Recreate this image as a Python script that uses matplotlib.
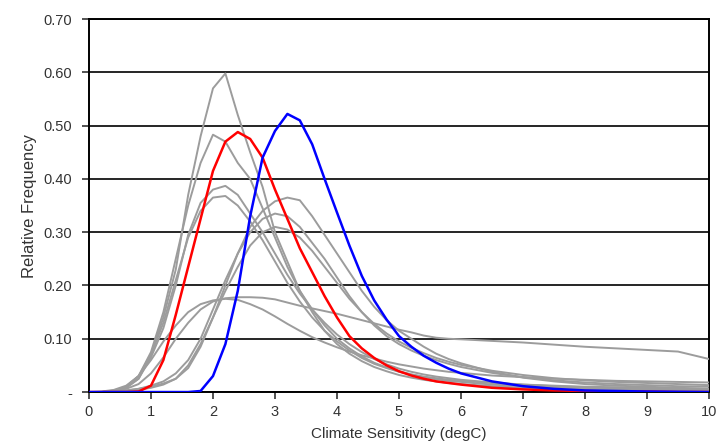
import numpy as np
import matplotlib.pyplot as plt

plt.rcParams['font.family'] = ['Liberation Sans', 'DejaVu Sans']

# climate sensitivity grid (degC)
cs = [0.0, 0.2, 0.4, 0.6, 0.8, 1.0, 1.2, 1.4, 1.6, 1.8, 2.0, 2.2, 2.4, 2.6, 2.8,
      3.0, 3.2, 3.4, 3.6, 3.8, 4.0, 4.2, 4.4, 4.6, 4.8, 5.0, 5.2, 5.4, 5.6, 5.8,
      6.0, 6.5, 7.0, 7.5, 8.0, 8.5, 9.0, 9.5, 10.0]

# grey pdfs
g1 = [0, 0, 0.002, 0.008, 0.025, 0.07, 0.14, 0.23, 0.37, 0.48, 0.57, 0.598, 0.52, 0.45, 0.385,
      0.30, 0.245, 0.19, 0.15, 0.115, 0.09, 0.072, 0.058, 0.047, 0.039, 0.032, 0.027, 0.023, 0.02, 0.017,
      0.015, 0.011, 0.008, 0.006, 0.005, 0.004, 0.003, 0.002, 0.002]
g2 = [0, 0, 0.003, 0.01, 0.03, 0.075, 0.15, 0.25, 0.35, 0.43, 0.483, 0.47, 0.43, 0.40, 0.345,
      0.29, 0.235, 0.19, 0.155, 0.125, 0.10, 0.082, 0.067, 0.055, 0.046, 0.039, 0.033, 0.028, 0.024, 0.021,
      0.019, 0.014, 0.011, 0.009, 0.007, 0.006, 0.005, 0.004, 0.003]
g3 = [0, 0, 0.002, 0.008, 0.025, 0.065, 0.12, 0.20, 0.295, 0.355, 0.38, 0.387, 0.37, 0.335, 0.30,
      0.26, 0.22, 0.185, 0.155, 0.13, 0.108, 0.09, 0.075, 0.062, 0.052, 0.044, 0.038, 0.033, 0.029, 0.026,
      0.023, 0.018, 0.014, 0.011, 0.009, 0.008, 0.007, 0.006, 0.005]
g4 = [0, 0, 0.002, 0.01, 0.03, 0.07, 0.13, 0.21, 0.29, 0.34, 0.365, 0.368, 0.35, 0.32, 0.285,
      0.245, 0.205, 0.17, 0.14, 0.115, 0.095, 0.078, 0.064, 0.053, 0.045, 0.038, 0.033, 0.029, 0.026, 0.023,
      0.021, 0.017, 0.014, 0.012, 0.01, 0.009, 0.008, 0.007, 0.006]
g5 = [0, 0, 0.001, 0.003, 0.006, 0.01, 0.016, 0.025, 0.045, 0.085, 0.14, 0.20, 0.26, 0.31, 0.34,
      0.358, 0.365, 0.36, 0.33, 0.295, 0.26, 0.225, 0.19, 0.16, 0.135, 0.115, 0.10, 0.085, 0.072, 0.062,
      0.054, 0.038, 0.027, 0.02, 0.015, 0.012, 0.01, 0.008, 0.006]
g6 = [0, 0, 0.001, 0.003, 0.006, 0.012, 0.02, 0.035, 0.06, 0.10, 0.155, 0.21, 0.26, 0.30, 0.325,
      0.335, 0.33, 0.31, 0.28, 0.25, 0.215, 0.18, 0.15, 0.125, 0.105, 0.09, 0.078, 0.068, 0.06, 0.053,
      0.047, 0.036, 0.028, 0.022, 0.018, 0.015, 0.013, 0.011, 0.01]
g7 = [0, 0, 0.001, 0.002, 0.004, 0.008, 0.014, 0.025, 0.05, 0.09, 0.14, 0.19, 0.235, 0.275, 0.30,
      0.31, 0.305, 0.29, 0.265, 0.235, 0.205, 0.175, 0.15, 0.128, 0.11, 0.095, 0.083, 0.073, 0.064, 0.057,
      0.051, 0.04, 0.032, 0.026, 0.022, 0.019, 0.017, 0.015, 0.013]
g8 = [0, 0.001, 0.004, 0.012, 0.03, 0.06, 0.095, 0.125, 0.15, 0.165, 0.172, 0.175, 0.173, 0.165, 0.155,
      0.142, 0.128, 0.115, 0.103, 0.093, 0.084, 0.076, 0.069, 0.063, 0.057, 0.052, 0.048, 0.044, 0.041, 0.038,
      0.036, 0.031, 0.028, 0.025, 0.023, 0.021, 0.02, 0.019, 0.018]
g9 = [0, 0, 0.002, 0.006, 0.015, 0.035, 0.065, 0.10, 0.13, 0.155, 0.17, 0.176, 0.178, 0.178, 0.177,
      0.174, 0.168, 0.162, 0.157, 0.152, 0.147, 0.141, 0.135, 0.129, 0.123, 0.117, 0.112, 0.106, 0.102, 0.10,
      0.099, 0.096, 0.093, 0.089, 0.085, 0.082, 0.079, 0.076, 0.062]
grey_pdfs = [g1, g2, g3, g4, g5, g6, g7, g8, g9]

red_pdf = [0, 0, 0, 0, 0.001, 0.012, 0.06, 0.145, 0.235, 0.325, 0.415, 0.47, 0.488, 0.475, 0.44,
           0.38, 0.325, 0.27, 0.225, 0.18, 0.14, 0.105, 0.082, 0.064, 0.05, 0.039, 0.031, 0.025, 0.02, 0.017,
           0.014, 0.008, 0.005, 0.003, 0.002, 0.001, 0.001, 0, 0]
blue_pdf = [0, 0, 0, 0, 0, 0, 0, 0, 0, 0.002, 0.03, 0.09, 0.19, 0.33, 0.44,
            0.49, 0.522, 0.51, 0.465, 0.40, 0.337, 0.275, 0.218, 0.172, 0.136, 0.105, 0.085, 0.068, 0.055, 0.044,
            0.035, 0.02, 0.011, 0.006, 0.003, 0.002, 0.001, 0.0005, 0]

yticks = [0, 0.1, 0.2, 0.3, 0.4, 0.5, 0.6, 0.7]
ytick_labels = ['-', '0.10', '0.20', '0.30', '0.40', '0.50', '0.60', '0.70']

fig = plt.figure(figsize=(7.21, 4.44), dpi=100)
ax = fig.add_axes([0.1234, 0.117, 0.86, 0.84])

for g in grey_pdfs:
    ax.plot(cs, g, color='#9c9c9c', lw=1.4, zorder=3)
ax.plot(cs, red_pdf, color='#ff0000', lw=1.8, zorder=4)
ax.plot(cs, blue_pdf, color='#0000ff', lw=1.8, zorder=5)

ax.set_xlim(0, 10)
ax.set_ylim(0, 0.7)
ax.set_xticks(range(11))
ax.set_yticks(yticks)
ax.set_yticklabels(ytick_labels)
ax.grid(axis='y', color='black', lw=1.2)
ax.set_axisbelow(True)
for s in ax.spines.values():
    s.set_color('black')
    s.set_linewidth(1.4)
ax.tick_params(colors='#333333', labelsize=10.5, length=5, width=1.2)
ax.tick_params(axis='x', pad=4)
ax.tick_params(axis='y', pad=7)
ax.set_xlabel('Climate Sensitivity (degC)', fontsize=11, color='#333333', labelpad=6)
ax.set_ylabel('Relative Frequency', fontsize=12, color='#333333', labelpad=5)

fig.savefig('out.png', dpi=100)
